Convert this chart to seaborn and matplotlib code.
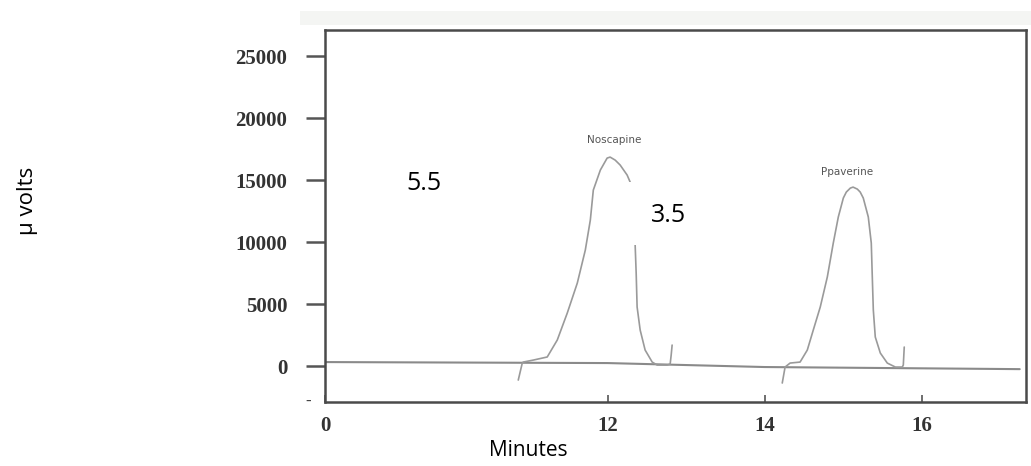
import numpy as np
import pandas as pd
import matplotlib
matplotlib.use("Agg")
import matplotlib.pyplot as plt
import seaborn as sns
from matplotlib.patches import Rectangle

# ---------------- data (minutes, micro-volts) ----------------
base_time = [8.40, 12.0, 14.0, 17.25]
base_uv = [320, 240, -80, -250]

nos_time = [10.862, 10.913, 10.925, 11.053, 11.231, 11.359, 11.486, 11.614, 11.716,
            11.780, 11.818, 11.908, 11.994, 12.032, 12.096, 12.160, 12.249, 12.287,
            12.313, 12.351, 12.364, 12.376, 12.415, 12.478, 12.568, 12.631, 12.759,
            12.797, 12.810, 12.822]
nos_uv = [-1130, 240, 320, 480, 730, 2100, 4270, 6690, 9350,
          11770, 14190, 15810, 16770, 16850, 16610, 16210, 15400, 14840,
          12580, 9760, 7500, 4760, 2900, 1290, 320, 80, 80,
          160, 890, 1690]

pap_time = [14.225, 14.261, 14.325, 14.452, 14.544, 14.620, 14.709, 14.799, 14.875,
            14.939, 15.003, 15.041, 15.092, 15.127, 15.181, 15.218, 15.257, 15.321,
            15.359, 15.372, 15.385, 15.410, 15.474, 15.563, 15.665, 15.754, 15.767,
            15.779]
pap_uv = [-1370, -80, 240, 320, 1290, 2900, 4760, 7180, 9920,
          12020, 13550, 14030, 14350, 14430, 14270, 14030, 13550, 12020,
          9920, 7180, 4520, 2340, 1050, 240, -80, -80, 80,
          1530]

x_ticks = [8.40, 12, 14, 16]
x_tick_labels = ["0", "12", "14", "16"]
y_ticks = [0, 5000, 10000, 15000, 20000, 25000]
y_tick_labels = ["0", "5000", "10000", "15000", "20000", "25000"]

peak_names = ["Noscapine", "Ppaverine"]

# ---------------- figure ----------------
sns.set_style("white")
plt.rcParams['font.family'] = ['DejaVu Sans']

W, H = 1031, 466
fig = plt.figure(figsize=(W / 100, H / 100), dpi=100)
ax = fig.add_axes([325 / W, 1 - 402 / H, (1026 - 325) / W, (402 - 30) / H])

# faint scan shading at the top
fig.patches.append(Rectangle((300 / W, 1 - 25 / H), (W - 300) / W, 14 / H,
                             transform=fig.transFigure, facecolor="#f4f5f3",
                             edgecolor="none", zorder=-1))

base_df = pd.DataFrame({"t": base_time, "uv": base_uv})
nos_df = pd.DataFrame({"t": nos_time, "uv": nos_uv})
pap_df = pd.DataFrame({"t": pap_time, "uv": pap_uv})

sns.lineplot(data=base_df, x="t", y="uv", ax=ax, color="#8a8a8a", lw=1.5,
             sort=False, estimator=None)
sns.lineplot(data=nos_df, x="t", y="uv", ax=ax, color="#9a9a9a", lw=1.2,
             sort=False, estimator=None)
sns.lineplot(data=pap_df, x="t", y="uv", ax=ax, color="#9a9a9a", lw=1.2,
             sort=False, estimator=None)

ax.set_xlim(8.40, 17.33)
ax.set_ylim(-2900, 27100)
ax.set_xticks(x_ticks)
ax.set_xticklabels(x_tick_labels)
ax.set_yticks(y_ticks)
ax.set_yticklabels(y_tick_labels)
ax.set_xlabel("")
ax.set_ylabel("")

for lab in ax.get_xticklabels() + ax.get_yticklabels():
    lab.set_fontfamily("Liberation Serif")
    lab.set_fontweight("bold")
    lab.set_fontsize(15)
    lab.set_color("#333333")

ax.tick_params(axis="y", direction="out", length=14, width=1.8, color="#555555",
               pad=13, left=True)
ax.tick_params(axis="x", direction="in", length=5, width=1.2, color="#555555",
               pad=10, bottom=True)

for sp in ax.spines.values():
    sp.set_color("#4a4a4a")
    sp.set_linewidth(1.8)

ax.text(8.18, -2900, "-", ha="center", va="center", color="#444444",
        fontsize=12, fontfamily="Liberation Serif", fontweight="bold")

# peak labels
ax.text(12.085, 18230, peak_names[0], ha="center", va="center", fontsize=7.5,
        color="#555555")
ax.text(15.052, 15650, peak_names[1], ha="center", va="center", fontsize=7.5,
        color="#555555")

# white text boxes overlaying the scan
fig.patches.append(Rectangle((597 / W, 1 - 245 / H), (720 - 597) / W, (245 - 182) / H,
                             transform=fig.transFigure, facecolor="white",
                             edgecolor="none", zorder=5))
fig.text(424 / W, 1 - 184 / H, "5.5", ha="center", va="center", fontsize=18,
         fontfamily="Open Sans", color="black", zorder=6)
fig.text(668 / W, 1 - 215 / H, "3.5", ha="center", va="center", fontsize=18,
         fontfamily="Open Sans", color="black", zorder=6)

# axis titles outside the scan
fig.text(528 / W, 1 - 450 / H, "Minutes", ha="center", va="center", fontsize=15,
         fontfamily="Open Sans", color="black")
fig.text(27 / W, 1 - 201 / H, "µ volts", ha="center", va="center", fontsize=16,
         rotation=90, fontfamily="Open Sans", color="black")

fig.savefig("out.png", dpi=100)
